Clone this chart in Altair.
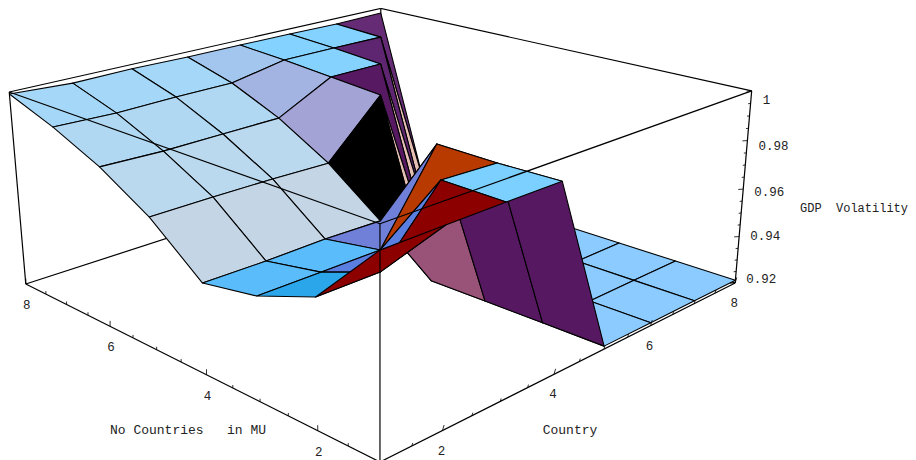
import altair as alt
import pandas as pd

# GDP volatility: rows are No Countries 1..8, columns are Country 1..8
row1 = [0.9916, 0.9918, 0.9919, 0.9919, 0.9212, 0.9212, 0.9212, 0.9212]
row2 = [0.9675, 0.9675, 0.9924, 0.9915, 0.9212, 0.9212, 0.9212, 0.9212]
row3 = [0.9590, 0.9590, 0.9590, 0.9919, 0.9212, 0.9212, 0.9212, 0.9212]
row4 = [0.9550, 0.9548, 0.9552, 0.9546, 0.9212, 0.9212, 0.9212, 0.9212]
row5 = [0.9716, 0.9717, 0.9716, 0.9710, 0.9927, 0.9212, 0.9212, 0.9212]
row6 = [0.9834, 0.9827, 0.9830, 0.9832, 0.9946, 0.9946, 0.9212, 0.9212]
row7 = [0.9922, 0.9915, 0.9920, 0.9921, 0.9964, 0.9964, 0.9962, 0.9212]
row8 = [0.9992, 0.9978, 0.9982, 0.9978, 0.9978, 0.9977, 0.9974, 0.9978]
GDP = [row1, row2, row3, row4, row5, row6, row7, row8]

# Facet colours: rows are No Countries 1-2 ... 7-8, columns are Country 1-2 ... 7-8
F = "#8ccbff"
col1 = ["#8c0000", "#8c0000", "#7bd0ff", "#561860", F, F, F]
col2 = ["#2ba6eb", "#5a7fe0", "#b83a00", "#561860", F, F, F]
col3 = ["#5abcfb", "#5abcfb", "#7080d8", "#9a5378", F, F, F]
col4 = ["#c4d5e6", "#c4d5e6", "#c4d5e6", "#000000", "#e6bfb5", F, F]
col5 = ["#bad8ee", "#bad8ee", "#bad8ee", "#a3a3d6", "#571a62", "#e6bfb5", F]
col6 = ["#b0d8f3", "#b0d8f3", "#b0d8f3", "#a3b3e2", "#85d2ff", "#5e2670", "#e6bfb5"]
col7 = ["#a5d8f8", "#a5d8f8", "#a5d8f8", "#a2c6ee", "#83d2ff", "#83d2ff", "#652c75"]
COLORS = [col1, col2, col3, col4, col5, col6, col7]

xy_major = [2, 4, 6, 8]
xy_minor = [1.5, 2.5, 3, 3.5, 4.5, 5, 5.5, 6.5, 7, 7.5]
z_major = [0.92, 0.94, 0.96, 0.98, 1.0]
z_minor = [0.925, 0.93, 0.935, 0.945, 0.95, 0.955, 0.965, 0.97, 0.975, 0.985, 0.99, 0.995]
z_labels = ["0.92", "0.94", "0.96", "0.98", "1"]
titles = ["No\u00a0Countries\u00a0\u00a0\u00a0in\u00a0MU", "Country", "GDP\u00a0\u00a0Volatility"]
title_cx = [188, 570, 854]
title_cy = [430, 430, 208]
title_size = [13, 13, 12]


def proj(x, y, z):
    u, v, w = (x - 1) / 7, (y - 1) / 7, (z - 0.92) / 0.08
    d = 1 + 0.28 * (u + v) - 0.057 * w
    return (380 + 561 * u - 347 * v - 21.7 * w) / d, (462 - 99.8 * u - 98.5 * v - 251 * w) / d


cells = []
cid = 0
for i in range(6, -1, -1):
    for j in range(6, -1, -1):
        corners = [(i, j), (i + 1, j), (i + 1, j + 1), (i, j + 1)]
        for k, (a, b) in enumerate(corners):
            px, py = proj(a + 1, b + 1, GDP[b][a])
            cells.append(dict(cell=cid, k=k, px=px, py=py, col=COLORS[j][i]))
        cid += 1
cells = pd.DataFrame(cells)


def edges(pairs):
    rows = []
    for p, q in pairs:
        x1, y1 = proj(*p)
        x2, y2 = proj(*q)
        rows.append(dict(x=x1, y=y1, x2=x2, y2=y2))
    return pd.DataFrame(rows)


back = edges([
    ((8, 8, 1.0), (8, 1, 1.0)), ((8, 8, 1.0), (1, 8, 1.0)), ((8, 8, 1.0), (8, 8, 0.92)),
    ((1, 8, 0.92), (8, 8, 0.92)), ((8, 1, 0.92), (8, 8, 0.92)),
])
front = edges([
    ((1, 1, 1.0), (8, 1, 1.0)), ((1, 1, 1.0), (1, 8, 1.0)), ((1, 1, 1.0), (1, 1, 0.92)),
    ((1, 1, 0.92), (8, 1, 0.92)), ((1, 1, 0.92), (1, 8, 0.92)),
    ((8, 1, 0.92), (8, 1, 1.0)), ((1, 8, 0.92), (1, 8, 1.0)),
])

ticks = []
for vals, L in ((xy_major, 5.5), (xy_minor, 3)):
    for t in vals:
        a, b = proj(t, 1, 0.92)
        ticks.append(dict(x=a, y=b, x2=a + 0.3 * L, y2=b - L))
        a, b = proj(1, t, 0.92)
        ticks.append(dict(x=a, y=b, x2=a, y2=b - L))
for vals, L in ((z_major, 5), (z_minor, 2.5)):
    for t in vals:
        a, b = proj(8, 1, t)
        ticks.append(dict(x=a, y=b, x2=a - L, y2=b + 0.3))
ticks = pd.DataFrame(ticks)

labels = []
for t in xy_major:
    a, b = proj(t, 1, 0.92)
    labels.append(dict(px=a - 1, py=b + 20, text=str(t), al="center"))
    a, b = proj(1, t, 0.92)
    labels.append(dict(px=a + 1, py=b + 21, text=str(t), al="center"))
labels = pd.DataFrame(labels)

zlab = []
for t, s in zip(z_major, z_labels):
    a, b = proj(8, 1, t)
    zlab.append(dict(px=a + 11, py=b - 4 + 13 * (t - 0.92) / 0.08, text=s))
zlab = pd.DataFrame(zlab)

ttl = pd.DataFrame(dict(px=title_cx, py=title_cy, text=titles, size=title_size))

xs = alt.Scale(domain=[8, 908], nice=False, zero=False)
ys = alt.Scale(domain=[460, 8], nice=False, zero=False)


def rules(df, width=1.2):
    return alt.Chart(df).mark_rule(color="black", strokeWidth=width, clip=True).encode(
        x=alt.X("x:Q", scale=xs, axis=None), x2="x2:Q",
        y=alt.Y("y:Q", scale=ys, axis=None), y2="y2:Q",
    )


surface = alt.Chart(cells).mark_line(
    interpolate="linear-closed", stroke="black", strokeWidth=1.1, strokeJoin="round", clip=True
).encode(
    x=alt.X("px:Q", scale=xs, axis=None),
    y=alt.Y("py:Q", scale=ys, axis=None),
    order=alt.Order("k:Q"),
    detail="cell:N",
    fill=alt.Fill("col:N", scale=None),
)

FONT = "Liberation Mono"
tlabels = alt.Chart(labels).mark_text(font=FONT, fontSize=12.5, color="#222222", align="center", baseline="middle").encode(
    x=alt.X("px:Q", scale=xs, axis=None), y=alt.Y("py:Q", scale=ys, axis=None), text="text:N"
)
zlabels = alt.Chart(zlab).mark_text(font=FONT, fontSize=12.5, color="#222222", align="left", baseline="middle").encode(
    x=alt.X("px:Q", scale=xs, axis=None), y=alt.Y("py:Q", scale=ys, axis=None), text="text:N"
)
tlayer = alt.Chart(ttl).mark_text(font=FONT, color="#222222", align="center", baseline="middle").encode(
    x=alt.X("px:Q", scale=xs, axis=None), y=alt.Y("py:Q", scale=ys, axis=None), text="text:N",
    size=alt.Size("size:Q", scale=None),
)

chart = alt.layer(
    rules(back), surface, rules(front), rules(ticks, 0.8), tlabels, zlabels, tlayer
).properties(
    width=900, height=452, padding=0, autosize=alt.AutoSizeParams(type="none"), background="white"
).configure_view(stroke=None)

chart.save("out.html", embed_options={"renderer": "svg", "actions": False})
